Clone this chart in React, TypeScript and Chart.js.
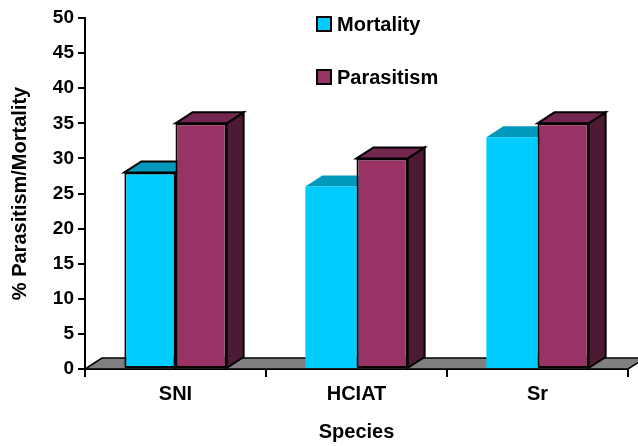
import React, { useEffect, useRef } from "react";
import { Chart, registerables } from "chart.js";

Chart.register(...registerables);

const categories = ["SNI", "HCIAT", "Sr"];
const mortality = [28, 26, 33];
const parasitism = [35, 30, 35];
const mortalityBorder = [2, 0, 0];
const parasitismBorder = [2, 2, 2];
const yTitle = "% Parasitism/Mortality";
const xTitle = "Species";

const FONT = "'Liberation Sans', Arial, sans-serif";
const DX = 17;
const DY = -11;

const faceColors = [
  { front: "#00CCFF", top: "#0099BB", side: "#007A99" },
  { front: "#993366", top: "#732650", side: "#4D1A33" },
];

const threeD = {
  id: "threeD",
  beforeDatasetsDraw(chart: any) {
    const { ctx, chartArea, scales } = chart;
    const y0 = scales.y.getPixelForValue(0);
    const l = chartArea.left;
    const r = chartArea.right;
    ctx.save();
    ctx.lineJoin = "miter";
    ctx.beginPath();
    ctx.moveTo(l, y0);
    ctx.lineTo(l + DX, y0 + DY);
    ctx.lineTo(r + DX, y0 + DY);
    ctx.lineTo(r, y0);
    ctx.closePath();
    ctx.fillStyle = "#808080";
    ctx.fill();
    ctx.strokeStyle = "#000";
    ctx.lineWidth = 1.5;
    ctx.stroke();

    const n = chart.data.labels.length;
    for (let j = 0; j < n; j++) {
      chart.data.datasets.forEach((ds: any, i: number) => {
        const meta = chart.getDatasetMeta(i);
        const el = meta.data[j];
        if (!el) return;
        const p = el.getProps(["x", "y", "base", "width"], true);
        const left = p.x - p.width / 2;
        const right = p.x + p.width / 2;
        const top = p.y;
        const base = p.base;
        const bw = Array.isArray(ds.borderWidth) ? ds.borderWidth[j] : ds.borderWidth;
        const outlined = bw > 0;
        const c = faceColors[i];
        ctx.beginPath();
        ctx.moveTo(right, top);
        ctx.lineTo(right + DX, top + DY);
        ctx.lineTo(right + DX, base + DY);
        ctx.lineTo(right, base);
        ctx.closePath();
        ctx.fillStyle = c.side;
        ctx.fill();
        if (outlined) {
          ctx.lineWidth = 2;
          ctx.strokeStyle = "#000";
          ctx.stroke();
        }
        ctx.beginPath();
        ctx.moveTo(left, top);
        ctx.lineTo(left + DX, top + DY);
        ctx.lineTo(right + DX, top + DY);
        ctx.lineTo(right, top);
        ctx.closePath();
        ctx.fillStyle = c.top;
        ctx.fill();
        if (outlined) {
          ctx.lineWidth = 2;
          ctx.strokeStyle = "#000";
          ctx.stroke();
        }
      });
    }
    ctx.restore();
  },
  afterDraw(chart: any) {
    const { ctx } = chart;
    ctx.save();
    const items = [
      { label: "Mortality", color: faceColors[0].front, cy: 24 },
      { label: "Parasitism", color: faceColors[1].front, cy: 77 },
    ];
    items.forEach((it) => {
      ctx.fillStyle = it.color;
      ctx.fillRect(317, it.cy - 7, 14, 14);
      ctx.lineWidth = 2;
      ctx.strokeStyle = "#000";
      ctx.strokeRect(317, it.cy - 7, 14, 14);
      ctx.fillStyle = "#000";
      ctx.font = `bold 20px ${FONT}`;
      ctx.textBaseline = "middle";
      ctx.textAlign = "left";
      ctx.fillText(it.label, 337, it.cy + 1);
    });
    ctx.restore();
  },
};

export default function App() {
  const ref = useRef<HTMLCanvasElement | null>(null);
  useEffect(() => {
    if (!ref.current) return;
    const chart = new Chart(ref.current, {
      type: "bar",
      data: {
        labels: categories,
        datasets: [
          {
            label: "Mortality",
            data: mortality,
            backgroundColor: faceColors[0].front,
            borderColor: "#000",
            borderWidth: mortalityBorder,
            borderSkipped: false,
          },
          {
            label: "Parasitism",
            data: parasitism,
            backgroundColor: faceColors[1].front,
            borderColor: "#000",
            borderWidth: parasitismBorder,
            borderSkipped: false,
          },
        ],
      } as any,
      options: {
        animation: false,
        responsive: false,
        maintainAspectRatio: false,
        layout: { padding: { top: 18, right: 10, left: 0, bottom: 0 } },
        datasets: { bar: { categoryPercentage: 0.565, barPercentage: 1 } } as any,
        plugins: { legend: { display: false }, tooltip: { enabled: false } },
        scales: {
          x: {
            grid: { offset: true, drawOnChartArea: false, tickLength: 8, color: "#000", lineWidth: 2 },
            border: { color: "#000", width: 2 },
            ticks: { color: "#000", font: { family: FONT, size: 20, weight: "bold" }, padding: 5 },
            title: {
              display: true,
              text: xTitle,
              color: "#000",
              font: { family: FONT, size: 20, weight: "bold" },
              padding: { top: 0, bottom: 2 },
            },
            afterFit: (s: any) => {
              s.height = 77;
            },
          },
          y: {
            min: 0,
            max: 50,
            grid: { drawOnChartArea: false, tickLength: 7, color: "#000", lineWidth: 2 },
            border: { color: "#000", width: 2 },
            ticks: { stepSize: 5, color: "#000", font: { family: FONT, size: 19, weight: "bold" }, padding: 4 },
            title: {
              display: true,
              text: yTitle,
              color: "#000",
              font: { family: FONT, size: 20, weight: "bold" },
              padding: { top: 8, bottom: 0 },
            },
            afterFit: (s: any) => {
              s.width = 85;
            },
          },
        } as any,
      },
      plugins: [threeD],
    });
    return () => chart.destroy();
  }, []);
  return (
    <div style={{ position: "absolute", left: 0, top: 0, width: 638, height: 446, background: "#fff" }}>
      <canvas ref={ref} width={638} height={446} />
    </div>
  );
}
